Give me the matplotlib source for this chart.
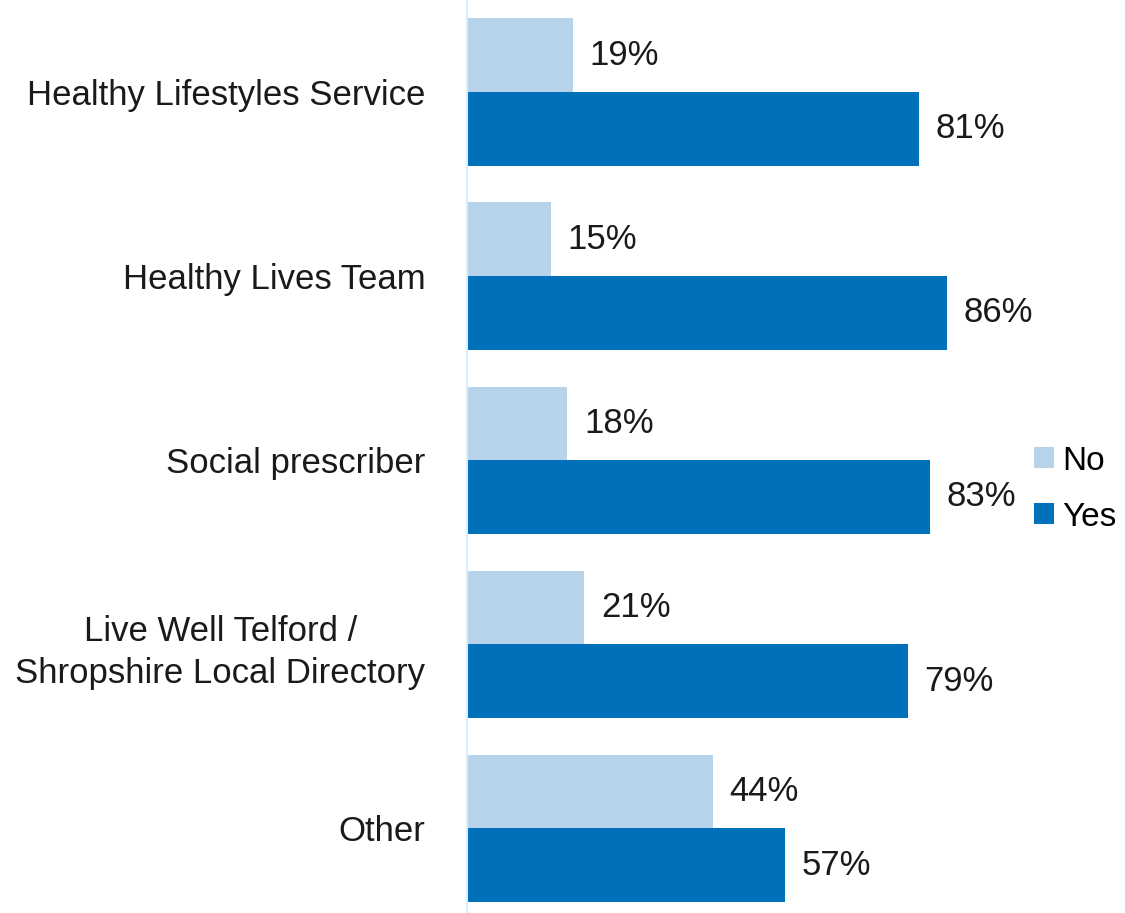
import matplotlib.pyplot as plt
import numpy as np

plt.rcParams['font.family'] = ['Liberation Sans', 'DejaVu Sans']

categories = [
    "Healthy Lifestyles Service",
    "Healthy Lives Team",
    "Social prescriber",
    "Live Well Telford /\nShropshire Local Directory",
    "Other",
]
no_vals = [19, 15, 18, 21, 44]
yes_vals = [81, 86, 83, 79, 57]

c_no = "#b7d3ea"
c_yes = "#0070bb"
h = 0.4
fs = 25

fig = plt.figure(figsize=(11.25, 9.13), dpi=100)
ax = fig.add_axes([467 / 1125, 0, 558 / 1125, 1])

y = np.arange(len(categories))
b_no = ax.barh(y - h / 2, no_vals, height=h, color=c_no, label="No")
b_yes = ax.barh(y + h / 2, yes_vals, height=h, color=c_yes, label="Yes")

for bars, vals in ((b_no, no_vals), (b_yes, yes_vals)):
    for bar, v in zip(bars, vals):
        ax.text(bar.get_width() + 3, bar.get_y() + bar.get_height() / 2,
                f"{v}%", va="center", ha="left", fontsize=fs, color="#1a1a1a")

ax.set_xlim(0, 100)
ax.set_ylim(4.46, -0.5)
ax.set_yticks(y)
ax.set_yticklabels(categories, fontsize=fs, color="#1a1a1a",
                   multialignment="center", linespacing=1.35)
ax.tick_params(axis="y", length=0, pad=30)
ax.set_xticks([])
for s in ("top", "right", "bottom"):
    ax.spines[s].set_visible(False)
ax.spines["left"].set_color("#dcecfa")
ax.spines["left"].set_linewidth(1.5)

fig.legend(handles=[b_no, b_yes], loc="center left",
           bbox_to_anchor=(1034 / 1125, 1 - 489 / 913), frameon=False,
           fontsize=24, handlelength=0.6, handleheight=0.6, handletextpad=0.25,
           labelspacing=0.75, borderaxespad=0, borderpad=0)

fig.savefig("out.png", dpi=100)
